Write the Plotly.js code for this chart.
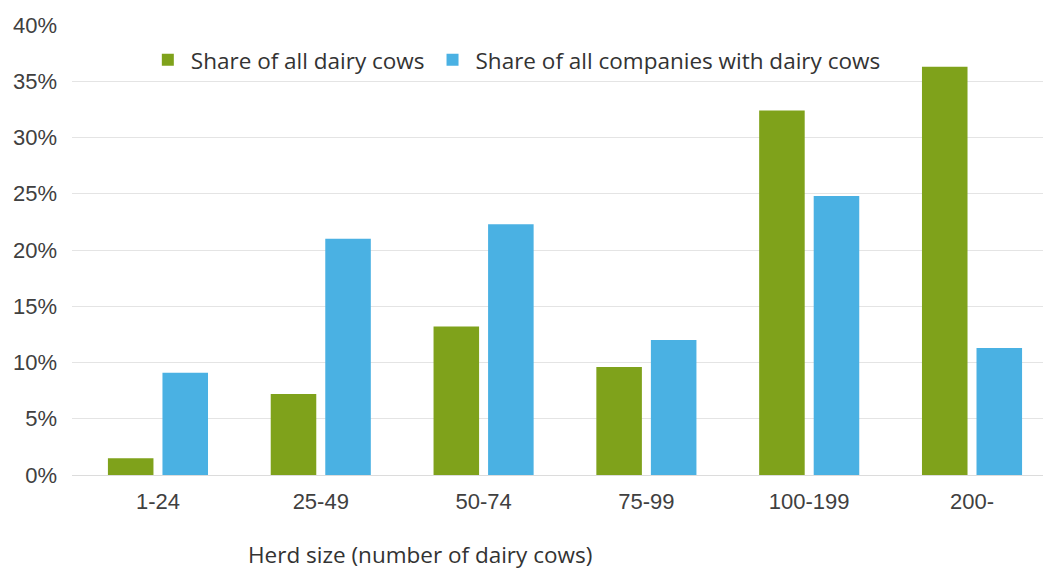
<!DOCTYPE html>
<html>
<head>
<meta charset="utf-8">
<script src="https://cdn.plot.ly/plotly-3.0.1.min.js"></script>
<style>html,body{margin:0;padding:0;background:#fff;}#chart{width:1043px;height:571px;}</style>
</head>
<body>
<div id="chart"></div>
<script>
const categories = ["1-24", "25-49", "50-74", "75-99", "100-199", "200-"];
const shareOfCows = [1.5, 7.2, 13.2, 9.6, 32.4, 36.3];
const shareOfCompanies = [9.1, 21.0, 22.3, 12.0, 24.8, 11.3];
const seriesNames = ["Share of all dairy cows", "Share of all companies with dairy cows"];
const yTickVals = [0, 5, 10, 15, 20, 25, 30, 35, 40];
const yTickText = ["0%", "5%", "10%", "15%", "20%", "25%", "30%", "35%", "40%"];
const xTitle = "Herd size (number of dairy cows)";

const traces = [
  {type: "bar", x: categories, y: shareOfCows, name: seriesNames[0],
   marker: {color: "#7fa21b"}, hoverinfo: "x+y"},
  {type: "bar", x: categories, y: shareOfCompanies, name: seriesNames[1],
   marker: {color: "#4ab1e3"}, hoverinfo: "x+y"}
];

const layout = {
  width: 1043, height: 571,
  margin: {l: 72, r: 0, t: 25, b: 96},
  paper_bgcolor: "#ffffff", plot_bgcolor: "#ffffff",
  barmode: "group", bargap: 0.33, bargroupgap: 0.165,
  font: {family: "Liberation Sans, Arial, sans-serif", color: "#404040", size: 22},
  xaxis: {
    type: "category", range: [-0.528, 5.436],
    showgrid: false, zeroline: false, showline: false,
    ticks: "", ticklabelstandoff: 11,
    tickfont: {family: "Liberation Sans, Arial, sans-serif", size: 22, color: "#404040"}
  },
  yaxis: {
    range: [0, 40], tickvals: yTickVals, ticktext: yTickText,
    showgrid: true, gridcolor: "#e4e4e4", gridwidth: 1,
    zeroline: true, zerolinecolor: "#dcdcdc", zerolinewidth: 1,
    showline: false, ticks: "", ticklabelstandoff: 14,
    tickfont: {family: "Liberation Sans, Arial, sans-serif", size: 22, color: "#404040"}
  },
  showlegend: true,
  legend: {
    orientation: "h", x: 0.075, xanchor: "left", y: 0.922, yanchor: "middle",
    bgcolor: "rgba(0,0,0,0)", borderwidth: 0, itemwidth: 36,
    font: {family: "Open Sans, Noto Sans, sans-serif", size: 22.5, color: "#333333"},
    itemclick: false, itemdoubleclick: false
  },
  annotations: [{
    text: xTitle, xref: "paper", yref: "paper", x: 0.358, y: -0.176,
    xanchor: "center", yanchor: "middle", showarrow: false,
    font: {family: "Open Sans, Noto Sans, sans-serif", size: 22.5, color: "#333333"}
  }]
};

Plotly.newPlot("chart", traces, layout, {displayModeBar: false});
</script>
</body>
</html>
